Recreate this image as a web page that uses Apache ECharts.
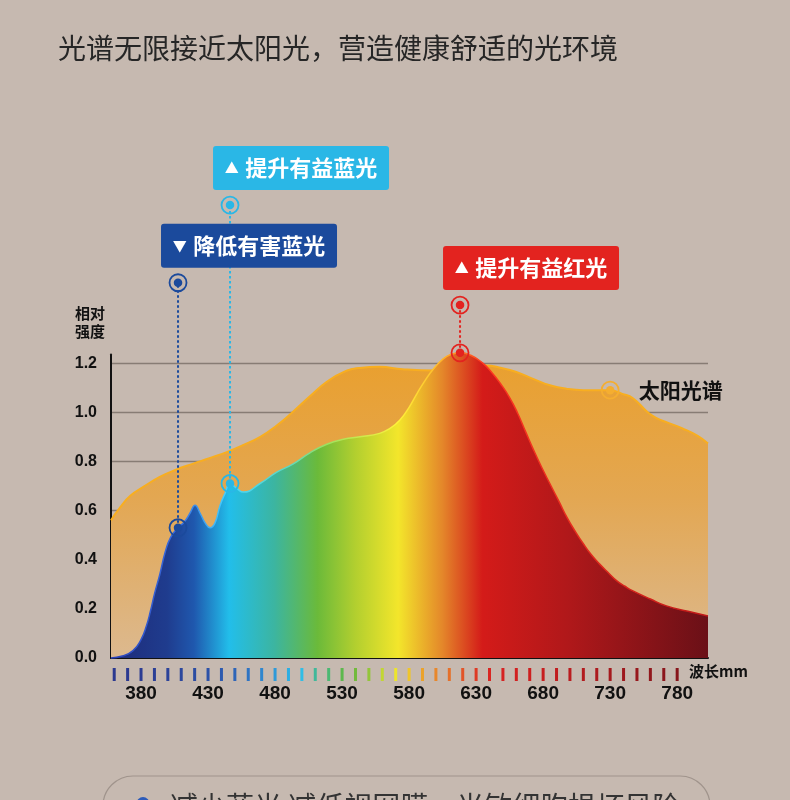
<!DOCTYPE html>
<html>
<head>
<meta charset="utf-8">
<script src="https://cdn.jsdelivr.net/npm/echarts@6/dist/echarts.min.js"></script>
<style>
html,body{margin:0;padding:0;background:#C6B9B0;}
#chart{width:790px;height:800px;}
</style>
</head>
<body>
<div id="chart"></div>
<script>
// ---------------- DATA ----------------
const titleText = '光谱无限接近太阳光，营造健康舒适的光环境';
const yAxisTitle = '相对\n强度';
const xAxisTitle = '波长mm';
const footerText = '减少蓝光 减低视网膜，光敏细胞损坏风险';

// wavelength (nm), relative intensity
const sunSpectrum = [
  [357.6,0.56],[364,0.61],[372,0.66],[382,0.697],[394,0.737],[406,0.766],[419,0.791],
  [431,0.813],[444,0.838],[456,0.866],[469,0.90],[481,0.945],[493,1.0],[506,1.065],
  [518.6,1.124],[531,1.163],[543,1.18],[558,1.185],[575,1.175],[600,1.17],[620,1.18],
  [637,1.19],[649,1.18],[660,1.164],[673,1.135],[685,1.11],[698,1.095],[710,1.09],
  [730,1.09],[739,1.075],[747,1.057],[758,1.0],[765,0.975],[772,0.96],[784,0.934],
  [795,0.905],[803,0.873]
];
const ledSpectrum = [
  [357.6,0.0],[366,0.008],[374,0.03],[380,0.075],[384,0.13],[387,0.19],[390,0.26],
  [394,0.34],[398,0.43],[402,0.49],[407.6,0.53],[412.8,0.557],[416.6,0.59],[420.3,0.622],
  [424,0.59],[427.8,0.55],[431.5,0.53],[435.2,0.55],[438.9,0.62],[442.7,0.67],[446.4,0.71],
  [451.4,0.69],[456.3,0.675],[468.8,0.71],[481,0.755],[493.6,0.79],[506,0.835],[518.6,0.87],
  [531,0.89],[543.4,0.90],[558,0.914],[566,0.935],[573,0.967],[580,1.02],[586,1.077],
  [592,1.13],[598,1.175],[605,1.215],[611,1.235],[618,1.242],[626,1.232],[635,1.2],
  [642,1.16],[648,1.118],[655,1.06],[661,0.996],[667,0.92],[673,0.845],[679,0.775],
  [685,0.71],[692,0.635],[698,0.57],[704,0.515],[710,0.465],[716,0.42],[722,0.383],
  [729,0.345],[735,0.314],[741,0.292],[747,0.273],[760,0.24],[772,0.212],[788,0.19],
  [803,0.171]
];
const yTickValues = [0,0.2,0.4,0.6,0.8,1.0,1.2];
const xLabelValues = [380,430,480,530,580,630,680,730,780];
const scaleTicks = [360,370,380,390,400,410,420,430,440,450,460,470,480,490,500,510,520,
  530,540,550,560,570,580,590,600,610,620,630,640,650,660,670,680,690,700,710,720,730,740,
  750,760,770,780];
const scaleTickColors = ['#2B3990','#2B3990','#2B3C93','#2B3F96','#2C4399','#2C479D','#2C4CA2',
  '#2D52A8','#2D5AAF','#2E65B8','#2F74C3','#2F86CE','#2E9AD9','#2DAEE3','#30BDE6','#40B89A',
  '#4CB873','#5DB84D','#72BA3C','#93C53A','#C2D633','#EDE52B','#EFC52B','#EBA22A','#E8872A',
  '#E5702A','#E25428','#DE3A24','#D92622','#D62222','#D22020','#CD1F1F','#C71E1F','#C11D1F',
  '#BA1C1F','#B31B1E','#AC1A1E','#A5191D','#9E181D','#97171C','#91171C','#8C161C','#87151B'];

const calloutLabels = ['降低有害蓝光','提升有益蓝光','提升有益红光'];
const calloutArrows = ['▼','▲','▲'];
const calloutBase = [[407.6,0.53],[446.4,0.71],[618,1.242]];
const calloutTop = [[407.6,1.527],[446.4,1.843],[618,1.436]];
const sunMarker = [730,1.09];
const sunLabel = '太阳光谱';

// ---------------- STYLE ----------------
const calloutColors = ['#1B4A9C','#2AB7E6','#E3231F'];
const sunMarkerColor = '#F5AE30';
const CJK = '"Noto Sans CJK SC", "Noto Sans", sans-serif';
const NUM = '"Liberation Sans", Arial, sans-serif';
const X_MIN = 357.6, X_MAX = 803;

function aboveSegments(data, level) {
  const segs = [];
  let start = data[0][1] >= level ? data[0][0] : null;
  for (let i = 1; i < data.length; i++) {
    const [x0, y0] = data[i - 1], [x1, y1] = data[i];
    if ((y0 < level) !== (y1 < level)) {
      const xc = x0 + (level - y0) * (x1 - x0) / (y1 - y0);
      if (y1 >= level) start = xc; else { segs.push([start, xc]); start = null; }
    }
  }
  if (start !== null) segs.push([start, data[data.length - 1][0]]);
  return segs;
}
const innerGridLines = [];
yTickValues.filter(v => v > 0 && v < 1.2).forEach(v => {
  aboveSegments(sunSpectrum, v).forEach(s => {
    innerGridLines.push([{coord: [s[0], v]}, {coord: [s[1], v]}]);
  });
});

const ledGradientStops = [
  [0,'#1E2A78'],[0.094,'#1F3C8E'],[0.139,'#1F58AE'],[0.198,'#22BEEA'],[0.274,'#3CB5A0'],
  [0.346,'#6BBA3A'],[0.409,'#B2CF2F'],[0.481,'#F3E62B'],[0.555,'#E4872A'],[0.622,'#D41B19'],
  [0.766,'#B0181A'],[1,'#6A1017']
];
const ledLineStops = [
  [0,'#2A3FB8'],[0.12,'#3A70E0'],[0.198,'#45D4FF'],[0.3,'#5FD8C0'],[0.36,'#9BE060'],
  [0.48,'#FFF23A'],[0.56,'#FFB02A'],[0.62,'#FF3A20'],[1,'#C01818']
];
function grad(stops, vertical) {
  return new echarts.graphic.LinearGradient(0, 0, vertical ? 0 : 1, vertical ? 1 : 0,
    stops.map(s => ({offset: s[0], color: s[1]})));
}

const chart = echarts.init(document.getElementById('chart'), null, {renderer: 'canvas'});

const series = [];
series.push({
  type: 'line', name: 'sun', data: sunSpectrum, smooth: 0.5,
  showSymbol: false, z: 2, clip: false, silent: true,
  lineStyle: {color: '#F8AE20', width: 2},
  areaStyle: {opacity: 1, color: grad([[0,'#E9A030'],[0.45,'#E3A752'],[1,'#DCB98F']], true)},
  markLine: {
    z: 2, silent: true, symbol: 'none', label: {show: false},
    lineStyle: {color: 'rgba(255,236,205,0.35)', width: 1.2, type: 'solid'},
    animation: false, data: innerGridLines
  }
});
series.push({
  type: 'line', name: 'led', data: ledSpectrum, smooth: 0.5,
  showSymbol: false, z: 3, clip: false, silent: true,
  lineStyle: {color: grad(ledLineStops, false), width: 1.5},
  areaStyle: {opacity: 1, color: grad(ledGradientStops, false)}
});
calloutBase.forEach((b, i) => {
  series.push({
    type: 'line', data: [b, calloutTop[i]], showSymbol: false, symbol: 'none',
    z: 4, clip: false, silent: true,
    lineStyle: {color: calloutColors[i], width: 2, type: [2.5, 2.5]}
  });
});
const markerPts = [];
calloutBase.forEach((b, i) => {
  markerPts.push({value: b, c: calloutColors[i]});
  markerPts.push({value: calloutTop[i], c: calloutColors[i]});
});
markerPts.push({value: sunMarker, c: sunMarkerColor});
series.push({
  type: 'scatter', z: 5, clip: false, silent: true, symbol: 'circle', symbolSize: 17,
  data: markerPts.map(p => ({value: p.value, itemStyle: {opacity: 1, color: 'rgba(0,0,0,0)', borderColor: p.c, borderWidth: 1.8}}))
});
series.push({
  type: 'scatter', z: 6, clip: false, silent: true, symbol: 'circle', symbolSize: 8.5,
  data: markerPts.map(p => ({value: p.value, itemStyle: {opacity: 1, color: p.c}}))
});
series.push({
  type: 'scatter', z: 10, clip: false, silent: true, symbolSize: 1,
  itemStyle: {opacity: 1, color: 'rgba(0,0,0,0)'},
  data: calloutTop.map((t, i) => ({
    value: t,
    label: {
      show: true, position: 'inside', offset: [71, -37],
      formatter: '{a|' + calloutArrows[i] + '}  {b|' + calloutLabels[i] + '}',
      backgroundColor: calloutColors[i], borderRadius: 3,
      width: 176, height: 44, lineHeight: 44, align: 'center', verticalAlign: 'middle',
      rich: {
        a: {fontSize: 14, color: '#fff', fontFamily: CJK, lineHeight: 44},
        b: {fontSize: 22, fontWeight: 'bold', color: '#fff', fontFamily: CJK, lineHeight: 44}
      }
    }
  }))
});
series.push({
  type: 'scatter', z: 10, clip: false, silent: true, symbolSize: 9,
  itemStyle: {opacity: 1, color: 'rgba(0,0,0,0)'},
  data: [{value: sunMarker, label: {
    show: true, position: 'right', distance: 24, formatter: sunLabel,
    fontFamily: CJK, fontSize: 21, fontWeight: 'bold', color: '#111'
  }}]
});
series.push({
  type: 'scatter', xAxisIndex: 1, yAxisIndex: 1, silent: true, symbol: 'rect',
  symbolSize: [3, 13], z: 5,
  data: scaleTicks.map((t, i) => ({value: [t, 0.5], itemStyle: {opacity: 1, color: scaleTickColors[i]}}))
});

const option = {
  backgroundColor: '#C6B9B0',
  animation: false,
  title: {
    text: titleText, left: 58, top: 34, padding: 0,
    textStyle: {fontFamily: CJK, fontSize: 28, fontWeight: 'normal', color: '#262626'}
  },
  grid: [
    {left: 111, right: 82, top: 354.5, bottom: 142, containLabel: false},
    {left: 111, right: 82, top: 668, height: 13, containLabel: false}
  ],
  xAxis: [
    {
      type: 'value', gridIndex: 0, min: X_MIN, max: X_MAX,
      axisLine: {show: true, lineStyle: {color: '#111', width: 2}},
      axisTick: {show: false},
      splitLine: {show: false},
      axisLabel: {
        show: true, customValues: xLabelValues, margin: 26,
        fontFamily: NUM, fontSize: 19, fontWeight: 'bold', color: '#111',
        showMinLabel: true, showMaxLabel: true
      }
    },
    {
      type: 'value', gridIndex: 1, min: X_MIN, max: X_MAX, show: false
    }
  ],
  yAxis: [
    {
      type: 'value', gridIndex: 0, min: 0, max: 1.235,
      axisLine: {show: true, onZero: false, lineStyle: {color: '#111', width: 2}},
      axisTick: {show: false, customValues: yTickValues},
      splitLine: {show: true, showMinLine: false, showMaxLine: true, lineStyle: {color: '#877C74', width: 1.3}},
      axisLabel: {
        customValues: yTickValues, margin: 14,
        formatter: v => v.toFixed(1),
        fontFamily: NUM, fontSize: 16, fontWeight: 'bold', color: '#111'
      }
    },
    {type: 'value', gridIndex: 1, min: 0, max: 1, show: false}
  ],
  graphic: [
    {type: 'text', left: 75, top: 304, style: {text: yAxisTitle, fontFamily: CJK, fontSize: 15, fontWeight: 'bold', fill: '#111', lineHeight: 18}},
    {type: 'text', left: 689, top: 664, style: {text: xAxisTitle, fontFamily: CJK, fontSize: 15, fontWeight: 'bold', fill: '#111'}},
    {type: 'rect', shape: {x: 103, y: 776, width: 607, height: 100, r: 30},
      style: {fill: 'rgba(0,0,0,0)', stroke: '#A0948C', lineWidth: 1.2}},
    {type: 'circle', shape: {cx: 143, cy: 803.5, r: 6.5}, style: {fill: '#2D5BB9'}},
    {type: 'text', x: 170, y: 806, style: {text: footerText, fontFamily: CJK, fontSize: 28, fill: '#333', verticalAlign: 'middle'}}
  ],
  series: series
};
chart.setOption(option);
</script>
</body>
</html>
